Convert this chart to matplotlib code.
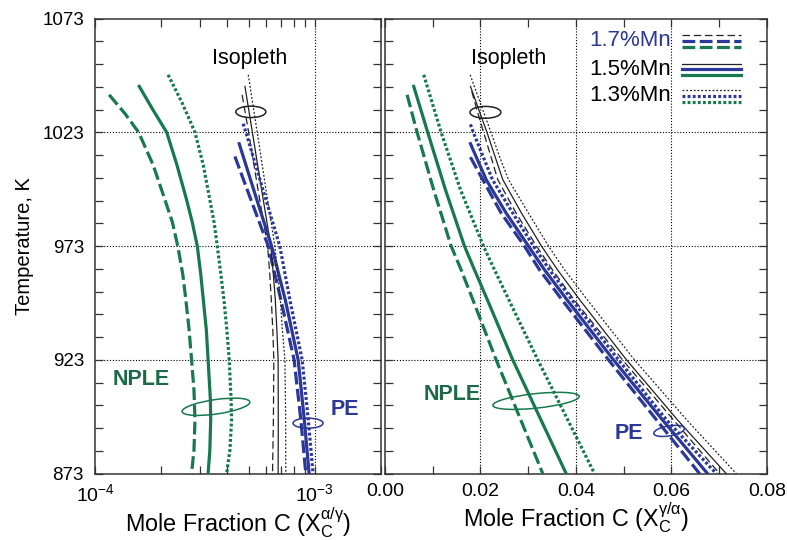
import matplotlib
matplotlib.use('Agg')
import matplotlib.pyplot as plt
from matplotlib.patches import Ellipse
from matplotlib.ticker import FixedLocator, NullFormatter

plt.rcParams['font.family'] = ['Liberation Sans', 'DejaVu Sans']
plt.rcParams['mathtext.fontset'] = 'custom'
plt.rcParams['mathtext.rm'] = 'Liberation Sans'

T_ticks = [873, 923, 973, 1023, 1073]
left_xticks = [1e-4, 1e-3]
left_xticklabels = [r'$\mathregular{10^{-4}}$', r'$\mathregular{10^{-3}}$']
right_xticks = [0.00, 0.02, 0.04, 0.06, 0.08]
right_xticklabels = ['0.00', '0.02', '0.04', '0.06', '0.08']

# left panel: X_C alpha/gamma (log scale)
T_green_l = {
    '1.7': [1039.5, 1031.2, 1023, 1008.6, 993.4, 983.5, 973, 960.4, 949.4, 936.2, 923, 909.8, 896.6, 883.4, 873],
    '1.5': [1043.2, 1032.9, 1023, 1008.6, 993.4, 983.5, 973, 960.4, 949.4, 936.2, 923, 905.4, 896.6, 883.4, 873],
    '1.3': [1048.3, 1036.0, 1023, 1008.6, 993.4, 983.5, 973, 960.4, 949.4, 936.2, 923, 905.4, 896.6, 883.4, 873],
}
x_green_l = {
    '1.7': [1.16e-4, 1.37e-4, 1.58e-4, 1.84e-4, 2.08e-4, 2.25e-4, 2.38e-4, 2.51e-4,
            2.59e-4, 2.68e-4, 2.75e-4, 2.82e-4, 2.85e-4, 2.82e-4, 2.75e-4],
    '1.5': [1.59e-4, 1.835e-4, 2.12e-4, 2.36e-4, 2.61e-4, 2.77e-4, 2.92e-4, 3.03e-4,
            3.11e-4, 3.21e-4, 3.27e-4, 3.35e-4, 3.36e-4, 3.33e-4, 3.27e-4],
    '1.3': [2.15e-4, 2.49e-4, 2.85e-4, 3.11e-4, 3.33e-4, 3.48e-4, 3.60e-4, 3.74e-4,
            3.86e-4, 3.98e-4, 4.08e-4, 4.16e-4, 4.18e-4, 4.11e-4, 3.97e-4],
}
T_black_l = {
    '1.7': [1039.5, 1023, 996.3, 973, 960.4, 949.4, 936.2, 923, 896.6, 873],
    '1.5': [1043.2, 1023, 996.3, 973, 960.4, 949.4, 936.2, 923, 896.6, 873],
    '1.3': [1048.3, 1023, 996.3, 973, 960.4, 949.4, 936.2, 923, 896.6, 873],
}
x_black_l = {
    '1.7': [4.67e-4, 5.00e-4, 5.55e-4, 6.10e-4, 6.24e-4, 6.34e-4, 6.44e-4, 6.51e-4, 6.48e-4, 6.42e-4],
    '1.5': [4.81e-4, 5.20e-4, 5.76e-4, 6.31e-4, 6.48e-4, 6.61e-4, 6.72e-4, 6.81e-4, 6.82e-4, 6.81e-4],
    '1.3': [4.98e-4, 5.47e-4, 6.03e-4, 6.58e-4, 6.79e-4, 6.97e-4, 7.12e-4, 7.31e-4, 7.37e-4, 7.38e-4],
}
T_blue_l = {
    '1.7': [1012.4, 996.3, 973, 949.4, 923, 896.6, 873],
    '1.5': [1018.0, 996.3, 973, 949.4, 923, 896.6, 873],
    '1.3': [1026.8, 1023, 996.3, 973, 949.4, 923, 896.6, 873],
}
x_blue_l = {
    '1.7': [4.33e-4, 4.99e-4, 6.14e-4, 7.01e-4, 8.05e-4, 8.64e-4, 9.10e-4],
    '1.5': [4.53e-4, 5.33e-4, 6.36e-4, 7.34e-4, 8.40e-4, 8.96e-4, 9.42e-4],
    '1.3': [4.72e-4, 4.86e-4, 5.87e-4, 6.93e-4, 7.70e-4, 8.76e-4, 9.34e-4, 9.82e-4],
}

# right panel: X_C gamma/alpha (linear)
T_green_r = {
    '1.7': [1039.5, 1023, 997.8, 973, 962.6, 949.4, 923, 896.6, 873],
    '1.5': [1043.2, 1023, 997.8, 973, 962.6, 949.4, 923, 896.6, 873],
    '1.3': [1048.3, 1023, 997.8, 973, 962.6, 949.4, 923, 896.6, 873],
}
x_green_r = {
    '1.7': [0.00463, 0.00673, 0.01019, 0.01386, 0.01595, 0.01841, 0.02329, 0.02845, 0.03306],
    '1.5': [0.00602, 0.00895, 0.01266, 0.01665, 0.01874, 0.02145, 0.02677, 0.03268, 0.03797],
    '1.3': [0.00811, 0.01176, 0.01581, 0.02063, 0.02294, 0.02595, 0.03201, 0.03830, 0.04390],
}
T_black_r = {
    '1.7': [1041.0, 1032.9, 1022.8, 1013.1, 1002.2, 987.5, 973, 962.6, 949.4, 923, 896.6, 873],
    '1.5': [1043.2, 1032.9, 1022.8, 1013.1, 1002.2, 987.5, 973, 962.6, 949.4, 923, 896.6, 873],
    '1.3': [1048.3, 1032.9, 1022.8, 1013.1, 1002.2, 987.5, 973, 962.6, 949.4, 923, 896.6, 873],
}
x_black_r = {
    '1.7': [0.01818, 0.01925, 0.02069, 0.02208, 0.02363, 0.02748, 0.03174, 0.03509,
            0.03962, 0.04977, 0.06046, 0.07010],
    '1.5': [0.01790, 0.01966, 0.02140, 0.02294, 0.02468, 0.02860, 0.03279, 0.03614,
            0.04080, 0.05061, 0.06130, 0.07151],
    '1.3': [0.01784, 0.02048, 0.02224, 0.02386, 0.02587, 0.03006, 0.03426, 0.03761,
            0.04239, 0.05228, 0.06323, 0.07361],
}
T_blue_r = {
    '1.7': [1012.1, 1002.2, 987.5, 973, 962.6, 949.4, 923, 896.6, 873],
    '1.5': [1018.0, 1002.2, 987.5, 973, 962.6, 949.4, 923, 896.6, 873],
    '1.3': [1026.5, 1022.8, 1002.2, 987.5, 973, 962.6, 949.4, 923, 896.6, 873],
}
x_blue_r = {
    '1.7': [0.01790, 0.02048, 0.02434, 0.02922, 0.03237, 0.03709, 0.04683, 0.05690, 0.06591],
    '1.5': [0.01790, 0.02120, 0.02539, 0.03006, 0.03342, 0.03813, 0.04788, 0.05815, 0.06759],
    '1.3': [0.01790, 0.01853, 0.02252, 0.02677, 0.03111, 0.03447, 0.03918, 0.04893, 0.05899, 0.06941],
}

mn_labels = ['1.7%Mn', '1.5%Mn', '1.3%Mn']

# styles .......................................................................
GREEN = '#17794d'
BLUE = '#2b3897'
BLACK = '#222222'
thick = {'1.7': (0, (4, 1.4)), '1.5': '-', '1.3': (0, (0.9, 0.7))}
thin = {'1.7': (0, (6, 3)), '1.5': '-', '1.3': (0, (1.5, 1.5))}
LW_THICK, LW_THIN = 2.3, 0.9
grid_kw = dict(color='black', lw=0.8, ls=(0, (1, 1.6)), zorder=0.5)


def style_axes(ax):
    for s in ax.spines.values():
        s.set_linewidth(1.1)
        s.set_color('#333333')
    ax.set_ylim(873, 1073)
    ax.yaxis.set_major_locator(FixedLocator(T_ticks))
    ax.yaxis.set_minor_locator(FixedLocator(range(873, 1074, 10)))
    ax.tick_params(which='both', direction='in', top=True, right=True,
                   length=5.5, width=0.9, color='#333333')
    ax.tick_params(axis='x', labelsize=14, pad=7)
    ax.tick_params(axis='y', labelsize=13.5, pad=8)
    for t in T_ticks[1:-1]:
        ax.axhline(t, **grid_kw)


def draw_curves(ax, Tg, xg, Tk, xk, Tb, xb):
    common = dict(zorder=3, solid_joinstyle='round', dash_joinstyle='round')
    for key in ['1.7', '1.5', '1.3']:
        ax.plot(xg[key], Tg[key], color=GREEN, lw=LW_THICK, ls=thick[key], **common)
        ax.plot(xk[key], Tk[key], color=BLACK, lw=LW_THIN, ls=thin[key], **common)
        ax.plot(xb[key], Tb[key], color=BLUE, lw=LW_THICK, ls=thick[key], **common)


def ring(ax, cx, cy, w, h, color, angle=0):
    ax.add_patch(Ellipse((cx, cy), w, h, angle=angle, transform=ax.transAxes,
                         fill=False, ec=color, lw=1.1, zorder=4))


fig = plt.figure(figsize=(7.87, 5.40), dpi=100)
ax1 = fig.add_axes([0.1207, 0.1228, 0.3634, 0.8428])
ax2 = fig.add_axes([0.4892, 0.1228, 0.4852, 0.8428])

# left panel ...................................................................
style_axes(ax1)
ax1.set_xscale('log')
ax1.set_xlim(1e-4, 2e-3)
ax1.xaxis.set_major_locator(FixedLocator(left_xticks))
ax1.set_xticklabels(left_xticklabels)
ax1.xaxis.set_minor_locator(FixedLocator([k * 1e-4 for k in range(2, 10)] + [2e-3]))
ax1.xaxis.set_minor_formatter(NullFormatter())
ax1.axvline(left_xticks[1], **grid_kw)
ax1.set_yticklabels([str(t) for t in T_ticks])
draw_curves(ax1, T_green_l, x_green_l, T_black_l, x_black_l, T_blue_l, x_blue_l)
ax1.set_xlabel(r'Mole Fraction C (X$_\mathregular{C}^\mathregular{α/γ}$)', fontsize=16.8, labelpad=0)
ax1.set_ylabel('Temperature, K', fontsize=14.5, labelpad=6)

ax1.text(0.542, 0.913, 'Isopleth', transform=ax1.transAxes, ha='center', va='center', fontsize=15.5)
ring(ax1, 0.545, 0.795, 0.105, 0.025, BLACK)
ax1.text(0.163, 0.206, 'NPLE', transform=ax1.transAxes, ha='center', va='center',
         fontsize=15.5, fontweight='bold', color='#1d6a48')
ring(ax1, 0.423, 0.147, 0.238, 0.032, GREEN, angle=5)
ax1.text(0.874, 0.14, 'PE', transform=ax1.transAxes, ha='center', va='center',
         fontsize=15.5, fontweight='bold', color=BLUE)
ring(ax1, 0.745, 0.111, 0.105, 0.022, BLUE)

# right panel ..................................................................
style_axes(ax2)
ax2.set_xlim(0, 0.08)
ax2.xaxis.set_major_locator(FixedLocator(right_xticks))
ax2.set_xticklabels(right_xticklabels)
ax2.xaxis.set_minor_locator(FixedLocator([0.01, 0.03, 0.05, 0.07]))
ax2.set_yticklabels([])
for xv in right_xticks[1:-1]:
    ax2.axvline(xv, **grid_kw)
draw_curves(ax2, T_green_r, x_green_r, T_black_r, x_black_r, T_blue_r, x_blue_r)
ax2.set_xlabel(r'Mole Fraction C (X$_\mathregular{C}^\mathregular{γ/α}$)', fontsize=16.8, labelpad=0)

ax2.text(0.325, 0.913, 'Isopleth', transform=ax2.transAxes, ha='center', va='center', fontsize=15.5)
ring(ax2, 0.263, 0.794, 0.081, 0.026, BLACK)
ax2.text(0.1755, 0.1745, 'NPLE', transform=ax2.transAxes, ha='center', va='center',
         fontsize=15.5, fontweight='bold', color='#1d6a48')
ring(ax2, 0.3956, 0.16, 0.227, 0.032, GREEN, angle=5)
ax2.text(0.638, 0.089, 'PE', transform=ax2.transAxes, ha='center', va='center',
         fontsize=15.5, fontweight='bold', color=BLUE)
ring(ax2, 0.744, 0.094, 0.081, 0.022, BLUE, angle=8)

# legend drawn by hand
leg_y = [0.951, 0.889, 0.830]
leg_colors = [BLUE, 'black', 'black']
for i, key in enumerate(['1.7', '1.5', '1.3']):
    y0 = leg_y[i]
    ax2.text(0.75, y0, mn_labels[i], transform=ax2.transAxes, ha='right', va='center',
             fontsize=16, color=leg_colors[i])
    ax2.plot([0.778, 0.933], [y0 + 0.012] * 2, transform=ax2.transAxes, color=BLACK,
             lw=LW_THIN, ls=thin[key])
    ax2.plot([0.778, 0.933], [y0] * 2, transform=ax2.transAxes, color=BLUE,
             lw=LW_THICK, ls=thick[key])
    ax2.plot([0.778, 0.933], [y0 - 0.013] * 2, transform=ax2.transAxes, color=GREEN,
             lw=LW_THICK, ls=thick[key])

fig.savefig('out.png', dpi=100)
